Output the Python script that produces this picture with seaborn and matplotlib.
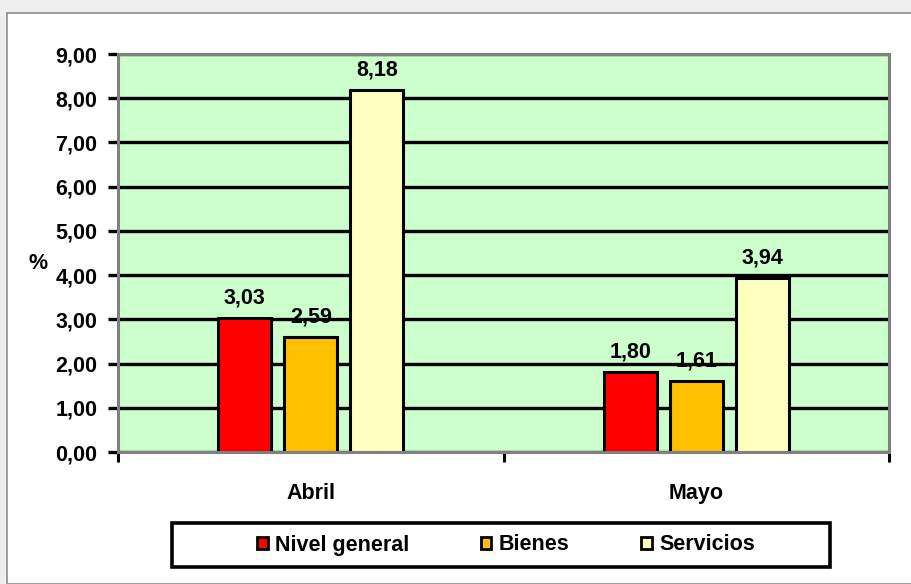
import pandas as pd
import numpy as np
import matplotlib.pyplot as plt
import seaborn as sns
from matplotlib.patches import Rectangle, Patch

# data
months = ['Abril', 'Mayo']
series = ['Nivel general', 'Bienes', 'Servicios']
nivel_general = [3.03, 1.80]
bienes = [2.59, 1.61]
servicios = [8.18, 3.94]
colors = ['#FF0000', '#FFC000', '#FFFFC0']

df = pd.DataFrame({
    'Mes': months * 3,
    'Serie': [s for s in series for _ in months],
    'Valor': nivel_general + bienes + servicios,
})

sns.set_style('white')
plt.rcParams['font.family'] = ['Liberation Sans', 'DejaVu Sans']
plt.rcParams['font.weight'] = 'bold'
plt.rcParams['text.color'] = 'black'
plt.rcParams['xtick.color'] = 'black'
plt.rcParams['ytick.color'] = 'black'

fig = plt.figure(figsize=(9.12, 5.84), dpi=100, facecolor='#EEEEEE')
W, H = 912, 584
# inner white frame
fig.patches.append(Rectangle((7 / W, 0), 1, 1 - 13 / H, transform=fig.transFigure,
                             facecolor='white', edgecolor='#8C8C8C', lw=1.2, zorder=-5))

ax = fig.add_axes([118 / W, 1 - 452 / H, (889 - 118) / W, (452 - 54) / H])
ax.set_zorder(1)
ax.set_facecolor('#CCFFCC')

sns.barplot(data=df, x='Mes', y='Valor', hue='Serie', order=months, hue_order=series,
            palette=colors, edgecolor='black', linewidth=2.2, width=0.514, gap=0.2,
            saturation=1, ax=ax, legend=False, zorder=3)

ax.set_ylim(0, 9)
ax.set_xlim(-0.5, 1.5)
ax.set_yticks(np.arange(0, 10, 1))
ax.set_yticklabels([f'{v:.2f}'.replace('.', ',') for v in np.arange(0, 10, 1)])
ax.yaxis.grid(True, color='black', lw=2.4, zorder=1)
ax.set_axisbelow(True)
ax.tick_params(axis='y', direction='out', length=7, width=2.4, color='black',
               labelsize=15.5, pad=8, left=True)
ax.tick_params(axis='x', length=0, labelsize=15.5, pad=22)
ax.set_xticks([-0.5, 0.5, 1.5], minor=True)
ax.tick_params(axis='x', which='minor', direction='out', length=7, width=2.2,
               color='black', bottom=True)
for lab in ax.get_xticklabels() + ax.get_yticklabels():
    lab.set_fontweight('bold')
ax.set_xlabel('')
ax.set_ylabel('')
for sp in ax.spines.values():
    sp.set_color('#808080')
    sp.set_linewidth(2.2)
    sp.set_zorder(4)

for cont in ax.containers:
    ax.bar_label(cont, labels=[f'{v:.2f}'.replace('.', ',') for v in cont.datavalues],
                 padding=7, fontsize=15.5, fontweight='bold')

fig.text(38 / W, 1 - 263 / H, '%', fontsize=15.5, fontweight='bold', ha='center', va='center')

# legend box
fig.patches.append(Rectangle((172 / W, 1 - 567 / H), (830 - 172) / W, 44 / H,
                             transform=fig.transFigure, facecolor='white',
                             edgecolor='black', lw=2.6, zorder=2))
handles = [Patch(facecolor=c, edgecolor='black', lw=2) for c in colors]
leg = fig.legend(handles, series, loc='center', bbox_to_anchor=(506 / W, 1 - 545 / H),
                 ncol=3, frameon=False, fontsize=15.5, handlelength=0.5, handleheight=0.5,
                 handletextpad=0.35, columnspacing=3.3)
for t in leg.get_texts():
    t.set_fontweight('bold')
leg.set_zorder(3)

fig.savefig('out.png', dpi=100, facecolor=fig.get_facecolor())
